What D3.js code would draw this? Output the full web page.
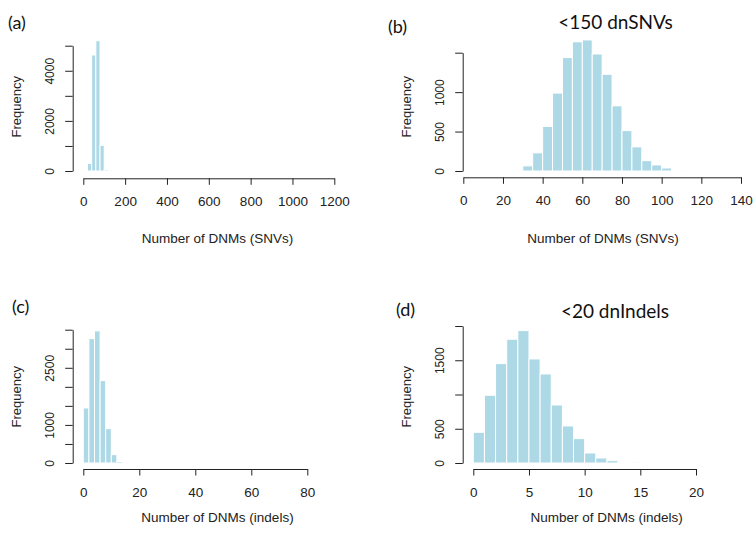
<!DOCTYPE html>
<html>
<head>
<meta charset="utf-8">
<script src="https://cdn.jsdelivr.net/npm/d3@7"></script>
<style>
  body { margin: 0; background: #fff; }
  svg { display: block; }
</style>
</head>
<body>
<script>
'use strict'

// (a) all dnSNVs, bins of 20
const snvAllStart = [20, 40, 60, 80, 100, 120, 140, 200, 420, 880, 1220]
const snvAllCount = [298, 4629, 5198, 1026, 53, 12, 4, 2, 1, 1, 1]
const snvAllTicksX = [0, 200, 400, 600, 800, 1000, 1200]
const snvAllTicksY = [0, 1000, 2000, 3000, 4000, 5000]
const snvAllLabelsY = [0, 2000, 4000]

// (b) <150 dnSNVs, bins of 5
const snvStart = [25, 30, 35, 40, 45, 50, 55, 60, 65, 70, 75, 80, 85, 90, 95, 100, 105, 110, 130]
const snvCount = [3, 65, 230, 565, 988, 1438, 1638, 1662, 1484, 1226, 826, 512, 306, 131, 77, 38, 12, 3, 1]
const snvTicksX = [0, 20, 40, 60, 80, 100, 120, 140]
const snvTicksY = [0, 500, 1000, 1500]
const snvLabelsY = [0, 500, 1000]

// (c) all dnIndels, bins of 2
const indelAllStart = [0, 2, 4, 6, 8, 10, 12, 16, 26, 40, 66, 88]
const indelAllCount = [1445, 3266, 3468, 2163, 902, 219, 40, 2, 1, 1, 1, 1]
const indelAllTicksX = [0, 20, 40, 60, 80]
const indelAllTicksY = [0, 500, 1000, 1500, 2000, 2500, 3000, 3500]
const indelAllLabelsY = [0, 1000, 2500]

// (d) <20 dnIndels, bins of 1
const indelStart = [0, 1, 2, 3, 4, 5, 6, 7, 8, 9, 10, 11, 12, 13, 14, 16, 17, 21, 23]
const indelCount = [448, 989, 1451, 1807, 1933, 1519, 1300, 847, 541, 356, 146, 73, 34, 10, 3, 1, 1, 1, 1]
const indelTicksX = [0, 5, 10, 15, 20]
const indelTicksY = [0, 500, 1000, 1500, 2000]
const indelLabelsY = [0, 500, 1500]

const largura = 753
const altura = 534
const corBarra = '#add8e6'
const corEixo = '#222'
const fonte = '"Liberation Sans", Arial, Helvetica, sans-serif'
const fonteTitulo = 'Lato, "Open Sans", sans-serif'

const svg = d3.select('body').append('svg')
    .attr('width', largura)
    .attr('height', altura)

const paineis = [
    {tag: '(a)', tagX: 8, tagY: 29, titulo: null,
     inicio: snvAllStart, contagem: snvAllCount, passo: 20,
     ticksX: snvAllTicksX, ticksY: snvAllTicksY, rotulosY: snvAllLabelsY,
     xRange: [83.3, 334.3], yBase: 171, yTopo: 45.7, eixoEsq: 72.7, eixoBaixo: 178.3,
     nomeX: 'Number of DNMs (SNVs)', nomeXx: 217.5, nomeXy: 243, freqX: 20.6, freqY: 106.7},
    {tag: '(b)', tagX: 388, tagY: 33, titulo: '<150 dnSNVs', tituloX: 615.5, tituloY: 29.3,
     inicio: snvStart, contagem: snvCount, passo: 5,
     ticksX: snvTicksX, ticksY: snvTicksY, rotulosY: snvLabelsY,
     xRange: [463.3, 741], yBase: 171, yTopo: 52.7, eixoEsq: 462.7, eixoBaixo: 177.3,
     nomeX: 'Number of DNMs (SNVs)', nomeXx: 603, nomeXy: 243, freqX: 410.8, freqY: 106.7},
    {tag: '(c)', tagX: 12, tagY: 313, titulo: null,
     inicio: indelAllStart, contagem: indelAllCount, passo: 2,
     ticksX: indelAllTicksX, ticksY: indelAllTicksY, rotulosY: indelAllLabelsY,
     xRange: [83.3, 307.3], yBase: 463, yTopo: 329.7, eixoEsq: 72.7, eixoBaixo: 469,
     nomeX: 'Number of DNMs (indels)', nomeXx: 217.5, nomeXy: 521.5, freqX: 21.3, freqY: 396.7},
    {tag: '(d)', tagX: 396, tagY: 316, titulo: '<20 dnIndels', tituloX: 615, tituloY: 318.3,
     inicio: indelStart, contagem: indelCount, passo: 1,
     ticksX: indelTicksX, ticksY: indelTicksY, rotulosY: indelLabelsY,
     xRange: [473.3, 696], yBase: 463, yTopo: 326, eixoEsq: 462.7, eixoBaixo: 469,
     nomeX: 'Number of DNMs (indels)', nomeXx: 606.7, nomeXy: 521.5, freqX: 410.8, freqY: 396.7}
]

function desenhaPainel(p) {
    const xMax = p.ticksX[p.ticksX.length - 1]
    const yMax = p.ticksY[p.ticksY.length - 1]
    const escalaX = d3.scaleLinear().domain([0, xMax]).range(p.xRange)
    const escalaY = d3.scaleLinear().domain([0, yMax]).range([p.yBase, p.yTopo])

    const dados = p.inicio.map((s, i) => ({s: s, n: p.contagem[i]}))

    // barras
    svg.append('g').selectAll('rect').data(dados).enter().append('rect')
        .attr('x', d => escalaX(d.s))
        .attr('width', d => escalaX(d.s + p.passo) - escalaX(d.s))
        .attr('y', d => escalaY(d.n))
        .attr('height', d => p.yBase - escalaY(d.n))
        .attr('fill', corBarra)
        .attr('stroke', '#fff')
        .attr('stroke-width', 1)

    // eixo x
    const eixoX = d3.axisBottom(escalaX)
        .tickValues(p.ticksX)
        .tickSize(6.5)
        .tickSizeOuter(0)
        .tickFormat(d3.format('d'))
    const gX = svg.append('g')
        .attr('transform', `translate(0, ${p.eixoBaixo})`)
        .call(eixoX)
    gX.select('.domain').attr('stroke', corEixo)
    gX.selectAll('.tick line').attr('stroke', corEixo)
    gX.selectAll('.tick text')
        .attr('y', 28)
        .attr('dy', 0)
        .attr('fill', corEixo)
        .style('font-family', fonte)
        .style('font-size', '13.5px')

    // eixo y
    const eixoY = d3.axisLeft(escalaY)
        .tickValues(p.ticksY)
        .tickSize(7.5)
        .tickSizeOuter(0)
        .tickFormat(d => p.rotulosY.includes(d) ? d : '')
    const gY = svg.append('g')
        .attr('transform', `translate(${p.eixoEsq}, 0)`)
        .call(eixoY)
    gY.select('.domain').attr('stroke', corEixo)
    gY.selectAll('.tick line').attr('stroke', corEixo)
    gY.selectAll('.tick text')
        .attr('transform', 'rotate(-90)')
        .attr('x', 0)
        .attr('y', -19)
        .attr('dy', 0)
        .attr('text-anchor', 'middle')
        .attr('fill', corEixo)
        .style('font-family', fonte)
        .style('font-size', '12px')

    // textos
    svg.append('text')
        .attr('x', p.tagX).attr('y', p.tagY)
        .attr('fill', '#111')
        .style('font-family', fonteTitulo)
        .style('font-size', '18px')
        .text(p.tag)

    if (p.titulo) {
        svg.append('text')
            .attr('x', p.tituloX).attr('y', p.tituloY)
            .attr('text-anchor', 'middle')
            .attr('fill', '#111')
            .style('font-family', fonteTitulo)
            .style('font-size', '19px')
            .text(p.titulo)
    }

    svg.append('text')
        .attr('transform', `translate(${p.freqX}, ${p.freqY}) rotate(-90)`)
        .attr('text-anchor', 'middle')
        .attr('fill', corEixo)
        .style('font-family', fonte)
        .style('font-size', '13px')
        .text('Frequency')

    svg.append('text')
        .attr('x', p.nomeXx).attr('y', p.nomeXy)
        .attr('text-anchor', 'middle')
        .attr('fill', corEixo)
        .style('font-family', fonte)
        .style('font-size', '13.5px')
        .text(p.nomeX)
}

for (let p of paineis) {
    desenhaPainel(p)
}
</script>
</body>
</html>
